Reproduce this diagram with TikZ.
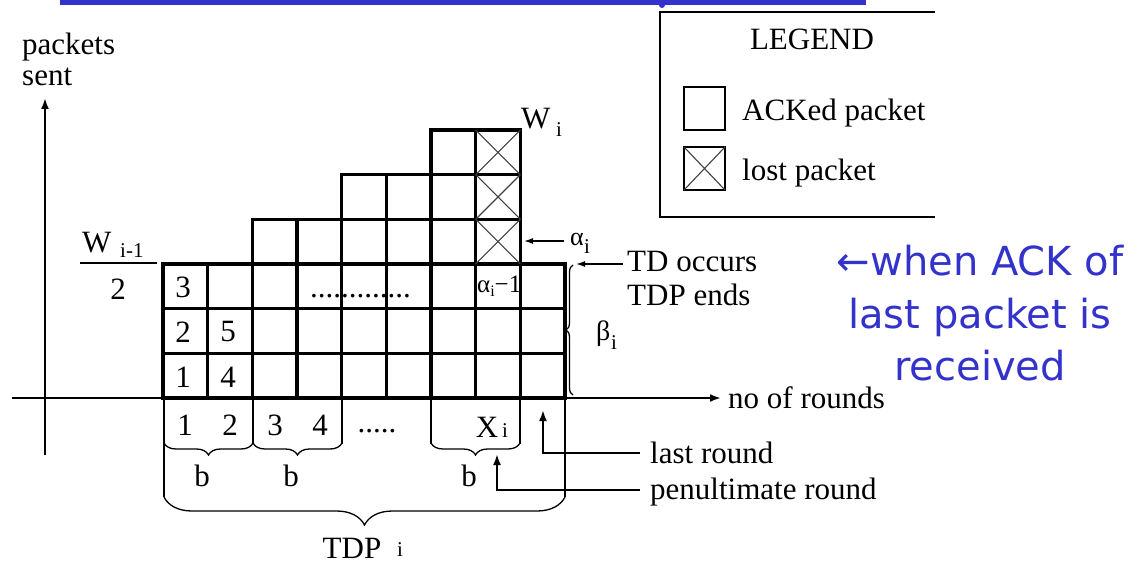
\documentclass[tikz,border=0pt]{standalone}
\usepackage{fontspec}
\setmainfont{Liberation Serif}
\newfontfamily\bluefont{DejaVu Sans}
\usetikzlibrary{arrows.meta,decorations.pathreplacing}
\definecolor{slideblue}{RGB}{51,51,204}
\begin{document}
\begin{tikzpicture}[x=1pt,y=-1pt,
  lbl/.style={font=\fontsize{31}{36}\selectfont, inner sep=0pt},
  smalllbl/.style={font=\fontsize{21}{24}\selectfont, inner sep=0pt},
  celldraw/.style={line width=3.1pt},
  crossline/.style={line width=1.1pt, black!75},
  axisline/.style={line width=2.6pt, -{Latex[length=11pt,width=8pt]}},
  ptrline/.style={line width=2.4pt, -{Latex[length=11pt,width=8pt]}},
  thinptr/.style={line width=1.4pt, -{Latex[length=9pt,width=6pt]}},
  guide/.style={line width=1.3pt},
  bracedeco/.style={line width=1.3pt, decorate, decoration={brace, mirror, amplitude=#1}},
  bluetext/.style={font=\bluefont\fontsize{40}{46}\selectfont, text=slideblue, inner sep=0pt},
  legline/.style={line width=2.6pt}]
\useasboundingbox (0,0) rectangle (1138,564);

% top blue bar
\fill[slideblue] (60,0) rectangle (866,5);
\fill[slideblue] (662,5) circle (3);

% grid of packets
\def\cw{44.67}
\foreach \c/\h in {0/3,1/3,2/4,3/4,4/5,5/5,6/6,7/6,8/3}{
  \foreach \r in {1,...,\h}{
    \draw[celldraw] (163+\c*\cw, 398-\r*\cw+\cw) rectangle (163+\c*\cw+\cw, 398-\r*\cw);
  }
}
% lost packets (column 8, rows 4-6)
\foreach \r in {4,5,6}{
  \draw[crossline] (163+7*\cw, 398-\r*\cw+\cw) -- (163+8*\cw, 398-\r*\cw);
  \draw[crossline] (163+7*\cw, 398-\r*\cw) -- (163+8*\cw, 398-\r*\cw+\cw);
}

% axes
\coordinate (yb) at (45,455);
\coordinate (yt) at (45,98);
\draw[axisline] (yb) -- (yt);
\coordinate (xl) at (12,398);
\coordinate (xr) at (721,398);
\draw[axisline] (xl) -- (xr);
\node[lbl, anchor=base west] (xlab) at (728,408) {no of rounds};
\node[lbl, anchor=base west] (ylab1) at (22,55) {packets};
\node[lbl, anchor=base west] (ylab2) at (22,86) {sent};

% numbers in cells
\node[lbl] (c13) at (183,287) {3};
\node[lbl] (c12) at (183,332) {2};
\node[lbl] (c11) at (183,377) {1};
\node[lbl] (c22) at (228,332) {5};
\node[lbl] (c21) at (228,377) {4};
\node[lbl, anchor=base west] (dotsrow) at (310,297) {.............};
\node[font=\fontsize{25}{28}\selectfont, inner sep=0pt, anchor=base west] (alm1) at (477,292) {α\raisebox{-0.35ex}{\fontsize{16}{17}\selectfont i}−1};

% W labels
\node[lbl, anchor=base west] (wi) at (521,129) {W};
\node[smalllbl, anchor=base west] (wisub) at (556,137) {i};
\node[lbl, anchor=base west] (wim1) at (82,252) {W};
\node[smalllbl, anchor=base west] (wim1sub) at (120,258) {i-1};
\coordinate (fracl) at (80,263);
\coordinate (fracr) at (157,263);
\draw[line width=1.6pt] (fracl) -- (fracr);
\node[lbl, anchor=base] (two) at (118,299) {2};

% alpha_i
\coordinate (alphafrom) at (564,241);
\coordinate (alphato) at (524,241);
\draw[thinptr] (alphafrom) -- (alphato);
\node[font=\fontsize{26}{28}\selectfont, inner sep=0pt, anchor=base west] (alpha) at (570,246) {α};
\node[smalllbl, anchor=base west] (alphasub) at (584,254) {i};

% TD occurs
\coordinate (tdfrom) at (623,264);
\coordinate (tdto) at (576,264);
\draw[thinptr] (tdfrom) -- (tdto);
\node[lbl, anchor=base west] (td1) at (627,272) {TD occurs};
\node[lbl, anchor=base west] (td2) at (627,305) {TDP ends};

% beta brace
\coordinate (bt) at (573,265);
\coordinate (bb) at (573,395);
\draw[bracedeco=7pt] (bt) -- (bb);
\node[font=\fontsize{28}{30}\selectfont, inner sep=0pt, anchor=base west] (beta) at (596,340) {β};
\node[smalllbl, anchor=base west] (betasub) at (611,349) {i};

% legend
\coordinate (l1) at (935,12);
\coordinate (l2) at (660,12);
\coordinate (l3) at (660,217);
\coordinate (l4) at (935,217);
\draw[legline] (l1) -- (l2) -- (l3) -- (l4);
\node[lbl, anchor=base] (legtitle) at (812,50) {LEGEND};
\draw[legline] (684,87) rectangle (725,130);
\node[lbl, anchor=base west] (ack) at (742,121) {ACKed packet};
\draw[legline] (684,147) rectangle (725,190);
\draw[crossline] (684,147) -- (725,190);
\draw[crossline] (684,190) -- (725,147);
\node[lbl, anchor=base west] (lost) at (742,181) {lost packet};

% below the axis
\node[lbl, anchor=base] (r1) at (185,435) {1};
\node[lbl, anchor=base] (r2) at (230,435) {2};
\node[lbl, anchor=base] (r3) at (275,435) {3};
\node[lbl, anchor=base] (r4) at (320,435) {4};
\node[lbl, anchor=base] (rdots) at (377,432) {.....};
\node[lbl, anchor=base] (rx) at (487,437) {X};
\node[smalllbl, anchor=base west] (rxsub) at (502,437) {i};

\foreach \xx in {253,342,431,520}{
  \draw[guide] (\xx,399) -- (\xx,444);
}
\draw[guide] (164,399) -- (164,497);
\draw[guide] (565,399) -- (565,497);
\draw[bracedeco=12pt] (164,443) -- (253,443);
\draw[bracedeco=12pt] (253,443) -- (342,443);
\draw[bracedeco=12pt] (431,443) -- (520,443);
\node[lbl, anchor=base] (b1) at (202,486) {b};
\node[lbl, anchor=base] (b2) at (291,486) {b};
\node[lbl, anchor=base] (b3) at (469,486) {b};
\draw[bracedeco=28pt] (164,497) -- (565,497);
\node[lbl, anchor=base] (tdp) at (352,558) {TDP};
\node[smalllbl, anchor=base west] (tdpsub) at (397,556) {i};

% last round / penultimate round
\coordinate (lrstart) at (640,453);
\coordinate (lrcorner) at (543,453);
\coordinate (lrend) at (543,410);
\draw[ptrline] (lrstart) -- (lrcorner) -- (lrend);
\node[lbl, anchor=base west] (lr) at (650,463) {last round};
\coordinate (prstart) at (640,490);
\coordinate (prcorner) at (497,490);
\coordinate (prend) at (497,454);
\draw[ptrline] (prstart) -- (prcorner) -- (prend);
\node[lbl, anchor=base west] (pr) at (650,499) {penultimate round};

% blue annotation
\node[bluetext, anchor=base] (bl1) at (980,275) {←when ACK of};
\node[bluetext, anchor=base] (bl2) at (980,328) {last packet is};
\node[bluetext, anchor=base] (bl3) at (980,380) {received};
\end{tikzpicture}
\end{document}
